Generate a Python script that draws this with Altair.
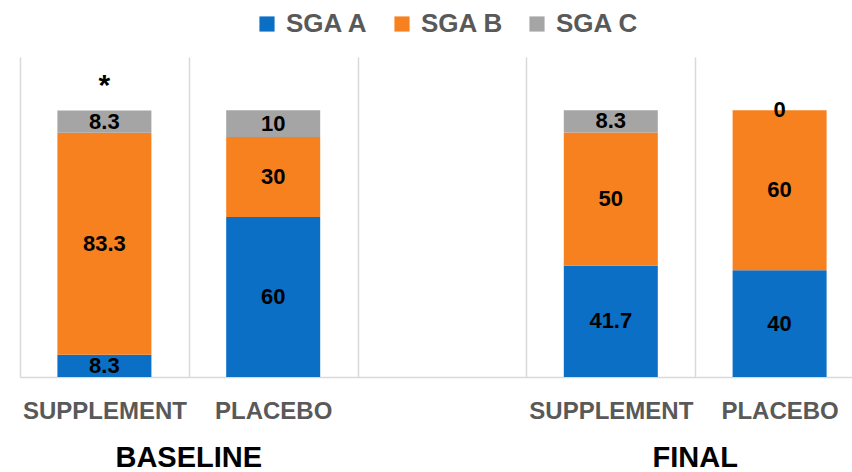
import altair as alt
import pandas as pd

# ---- data ----
slots = ["B_SUP", "B_PLA", "GAP", "F_SUP", "F_PLA"]
slot_labels = ["SUPPLEMENT", "PLACEBO", "", "SUPPLEMENT", "PLACEBO"]
bars = ["B_SUP", "B_PLA", "F_SUP", "F_PLA"]
series = ["SGA A", "SGA B", "SGA C"]
sga_a = [8.3, 60, 41.7, 40]
sga_b = [83.3, 30, 50, 60]
sga_c = [8.3, 10, 8.3, 0]
groups = ["BASELINE", "FINAL"]
group_first_slot = ["B_SUP", "F_SUP"]
note_slot = ["B_SUP"]
note_text = ["*"]
colors = ["#0B6FC6", "#F7801F", "#A5A5A5"]

rows = []
for vals, s, k in zip([sga_a, sga_b, sga_c], series, range(3)):
    for b, v in zip(bars, vals):
        lab = str(int(v)) if float(v).is_integer() else f"{v:.1f}"
        rows.append({"slot": b, "series": s, "value": v, "order": k, "label": lab})
df = pd.DataFrame(rows)
gdf = pd.DataFrame({"slot": group_first_slot, "group": groups})
ndf = pd.DataFrame({"slot": note_slot, "note": note_text})

FONT = "Liberation Sans"
label_expr = "[" + ",".join(f"'{l}'" for l in slot_labels) + "][indexof([" + \
    ",".join(f"'{s}'" for s in slots) + "], datum.value)]"

xscale = alt.Scale(domain=slots, range=[0, 844], paddingInner=0, paddingOuter=0)
yscale = alt.Scale(domain=[0, 120])

x_enc = alt.X("slot:N", scale=xscale, sort=slots,
              axis=alt.Axis(title=None, labelExpr=label_expr, tickBand="extent",
                            grid=True, gridColor="#D9D9D9", gridWidth=1.5,
                            ticks=False, domainColor="#D9D9D9", domainWidth=1.5,
                            labelFont=FONT, labelFontSize=24, labelFontWeight="bold",
                            labelColor="#595959", labelPadding=22, labelAngle=0,
                            labelOverlap=False, labelLimit=0))

base = alt.Chart(df).transform_stack(
    stack="value", as_=["y0", "y1"], groupby=["slot"],
    sort=[alt.SortField("order", order="ascending")]
)

bar_layer = base.mark_bar(width=94).encode(
    x=x_enc,
    y=alt.Y("y0:Q", scale=yscale, axis=None),
    y2="y1:Q",
    color=alt.Color("series:N", scale=alt.Scale(domain=series, range=colors),
                    legend=alt.Legend(title=None, orient="none", direction="horizontal",
                                      legendX=234, legendY=-46,
                                      symbolType="square", symbolSize=230,
                                      symbolStrokeWidth=0,
                                      labelFont=FONT, labelFontSize=26,
                                      labelFontWeight="bold", labelColor="#595959",
                                      columnPadding=20, labelOffset=6)),
)

text_layer = base.transform_calculate(mid="(datum.y0 + datum.y1) / 2").mark_text(
    font=FONT, fontSize=22, fontWeight="bold", color="black", baseline="middle"
).encode(
    x=alt.X("slot:N", scale=xscale, sort=slots),
    y=alt.Y("mid:Q", scale=yscale),
    text="label:N",
)

group_layer = alt.Chart(gdf).mark_text(
    font=FONT, fontSize=29, fontWeight="bold", color="black", baseline="middle", dx=84.4
).encode(
    x=alt.X("slot:N", scale=xscale, sort=slots),
    y=alt.value(401),
    text="group:N",
)

note_layer = alt.Chart(ndf).mark_text(
    font=FONT, fontSize=30, fontWeight="bold", color="black", baseline="middle", dy=-24
).encode(
    x=alt.X("slot:N", scale=xscale, sort=slots),
    y=alt.Y(datum=100, scale=yscale),
    text="note:N",
)

chart = alt.layer(bar_layer, text_layer, group_layer, note_layer).properties(
    width=832, height=320,
    padding={"left": 20, "top": 57, "right": 0, "bottom": 95},
    autosize="none",
).configure_view(stroke=None)

chart.save("out.html", embed_options={"renderer": "svg", "actions": False})
